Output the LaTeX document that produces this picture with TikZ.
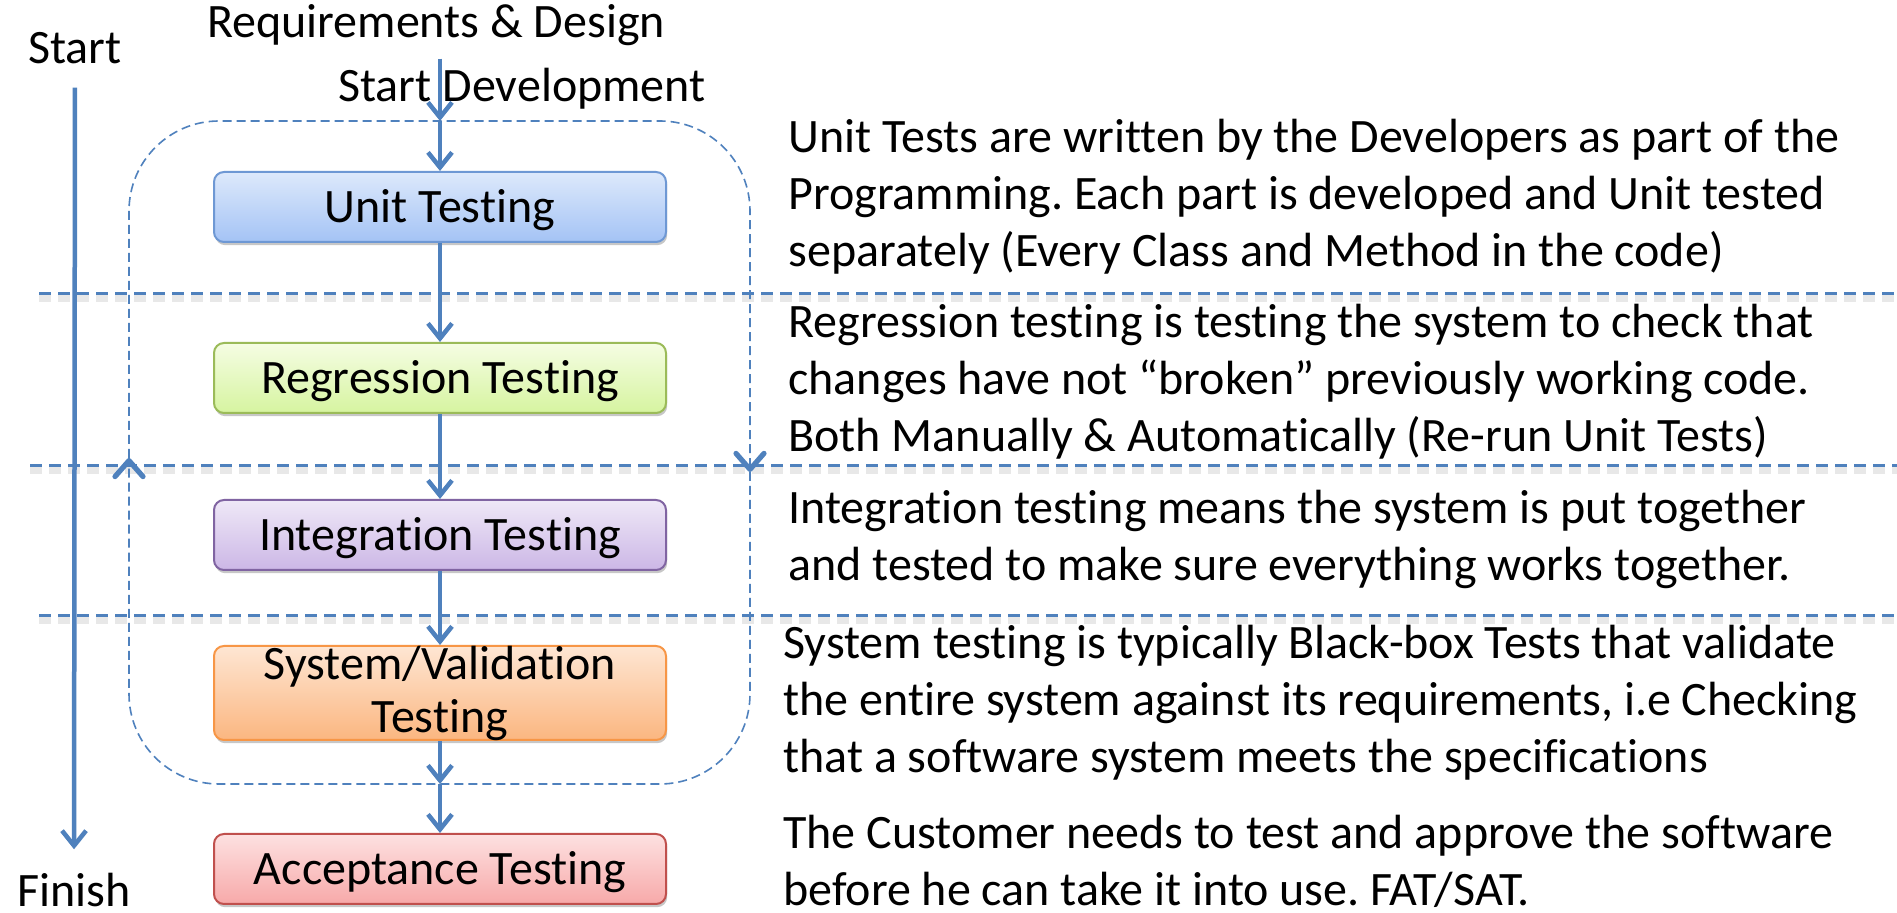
\documentclass[tikz,border=0pt]{standalone}
\usepackage{fontspec}
\setmainfont{Carlito}[Ligatures={NoCommon}]
\usetikzlibrary{arrows.meta,shadows}
\frenchspacing

\definecolor{flow}{HTML}{4F81BD}
\definecolor{unitTop}{HTML}{DDE9FB}\definecolor{unitBot}{HTML}{A4C3F5}\definecolor{unitLine}{HTML}{6E98D4}
\definecolor{regTop}{HTML}{F5FDE3}\definecolor{regBot}{HTML}{D6F4A0}\definecolor{regLine}{HTML}{9BBB59}
\definecolor{intTop}{HTML}{EFE8F7}\definecolor{intBot}{HTML}{CCB7E6}\definecolor{intLine}{HTML}{8064A2}
\definecolor{sysTop}{HTML}{FEE6D3}\definecolor{sysBot}{HTML}{FBB680}\definecolor{sysLine}{HTML}{F79646}
\definecolor{accTop}{HTML}{FDE1E1}\definecolor{accBot}{HTML}{F7A9A9}\definecolor{accLine}{HTML}{C0504D}

% text of a stage box: baseline 8pt below the box centre, no height of its own
\newcommand{\stagetext}[1]{\raisebox{-8pt}[0pt][0pt]{#1}}

\tikzset{
  big/.style={font=\fontsize{24}{28.5}\selectfont, inner sep=0pt},
  stage/.style={draw, line width=1pt, rounded corners=5pt, minimum width=226pt,
    minimum height=35pt, inner sep=0pt, font=\fontsize{24}{28.5}\selectfont,
    drop shadow={shadow xshift=0.6pt, shadow yshift=-1.6pt, opacity=0.22, fill=black}},
  flowarrow/.style={draw=flow, line width=2.25pt,
    -{Straight Barb[length=7.5pt,width=12pt]}},
  loopline/.style={draw=flow, line width=0.8pt, dash pattern=on 4.5pt off 2.5pt,
    rounded corners=45pt},
  looptip/.style={draw=flow, line width=0.8pt,
    -{Straight Barb[length=8pt,width=14pt,line width=2.6pt,round]}},
  divider/.style={draw=flow, line width=1.5pt, dash pattern=on 6pt off 3.5pt},
  dividershade/.style={draw=black!9, line width=3.5pt, dash pattern=on 6pt off 3.5pt},
}

\begin{document}
\begin{tikzpicture}[x=0.5pt, y=-0.5pt]
\useasboundingbox (0,0) rectangle (1897,913);
\fill[white] (0,0) rectangle (1897,913);

% horizontal phase dividers with a faint shade beneath
\foreach \yy/\xx in {294/39, 466/30, 616/39} {
  \draw[dividershade] (\xx,\yy+5) -- (1897,\yy+5);
  \draw[divider] (\xx,\yy) -- (1897,\yy);
}

% development loop (dashed rounded outline, clockwise)
\coordinate (devtop) at (440,121);
\coordinate (devbot) at (440,784);
\coordinate (loopL) at (129,458);
\coordinate (loopR) at (750,472);
\draw[loopline] (loopL) -- (129,121) -- (750,121) -- (loopR);
\draw[loopline] (loopR) -- (750,784) -- (129,784) -- (loopL);
\draw[looptip] (129,462) -- (loopL);
\draw[looptip] (750,468) -- (loopR);

% labels at the top and on the time axis
\node[big, anchor=base] (start) at (75,64) {Start};
\node[big, anchor=base] (finish) at (74,907) {Finish};
\node[big, anchor=base] (req) at (436,38) {Requirements \& Design};
\node[big, anchor=base] (dev) at (522,102) {Start Development};

% testing stages
\node[stage, draw=unitLine, top color=unitTop, bottom color=unitBot] (unit) at (440,207) {\stagetext{Unit Testing}};
\node[stage, draw=regLine, top color=regTop, bottom color=regBot] (reg) at (440,378) {\stagetext{Regression Testing}};
\node[stage, draw=intLine, top color=intTop, bottom color=intBot] (int) at (440,535) {\stagetext{Integration Testing}};
\node[stage, draw=sysLine, top color=sysTop, bottom color=sysBot, minimum height=47pt] (sys) at (440,693)
  {\raisebox{-20pt}[0pt][0pt]{\parbox[b]{226pt}{\centering\baselineskip=26.5pt System/Validation\\Testing}}};
\node[stage, draw=accLine, top color=accTop, bottom color=accBot] (acc) at (440,869) {\stagetext{Acceptance Testing}};

% connectors
\draw[flowarrow, shorten <=11.5pt, shorten >=12pt] (start.south) -- (finish.north);
\draw[flowarrow, shorten <=6pt] (req.south -| devtop) -- (devtop);
\draw[flowarrow] (devtop) -- (unit);
\draw[flowarrow] (unit) -- (reg);
\draw[flowarrow] (reg) -- (int);
\draw[flowarrow] (int) -- (sys);
\draw[flowarrow] (sys) -- (devbot);
\draw[flowarrow] (devbot) -- (acc);

% descriptions
\node[big, anchor=base west] (d1) at (788,153) {\parbox[t]{550pt}{\raggedright
  Unit Tests are written by the Developers as part of the\\
  Programming. Each part is developed and Unit tested\\
  separately (Every Class and Method in the code)}};
\node[big, anchor=base west] (d2) at (788,338) {\parbox[t]{550pt}{\raggedright
  Regression testing is testing the system to check that\\
  changes have not “broken” previously working code.\\
  Both Manually \& Automatically (Re-run Unit Tests)}};
\node[big, anchor=base west] (d3) at (788,524) {\parbox[t]{550pt}{\raggedright
  Integration testing means the system is put together\\
  and tested to make sure everything works together.}};
\node[big, anchor=base west] (d4) at (783,659) {\parbox[t]{550pt}{\raggedright
  System testing is typically Black-box Tests that validate\\
  the entire system against its requirements, i.e Checking\\
  that a software system meets the specifications}};
\node[big, anchor=base west] (d5) at (783,849) {\parbox[t]{550pt}{\raggedright
  The Customer needs to test and approve the software\\
  before he can take it into use. FAT/SAT.}};
\end{tikzpicture}
\end{document}
